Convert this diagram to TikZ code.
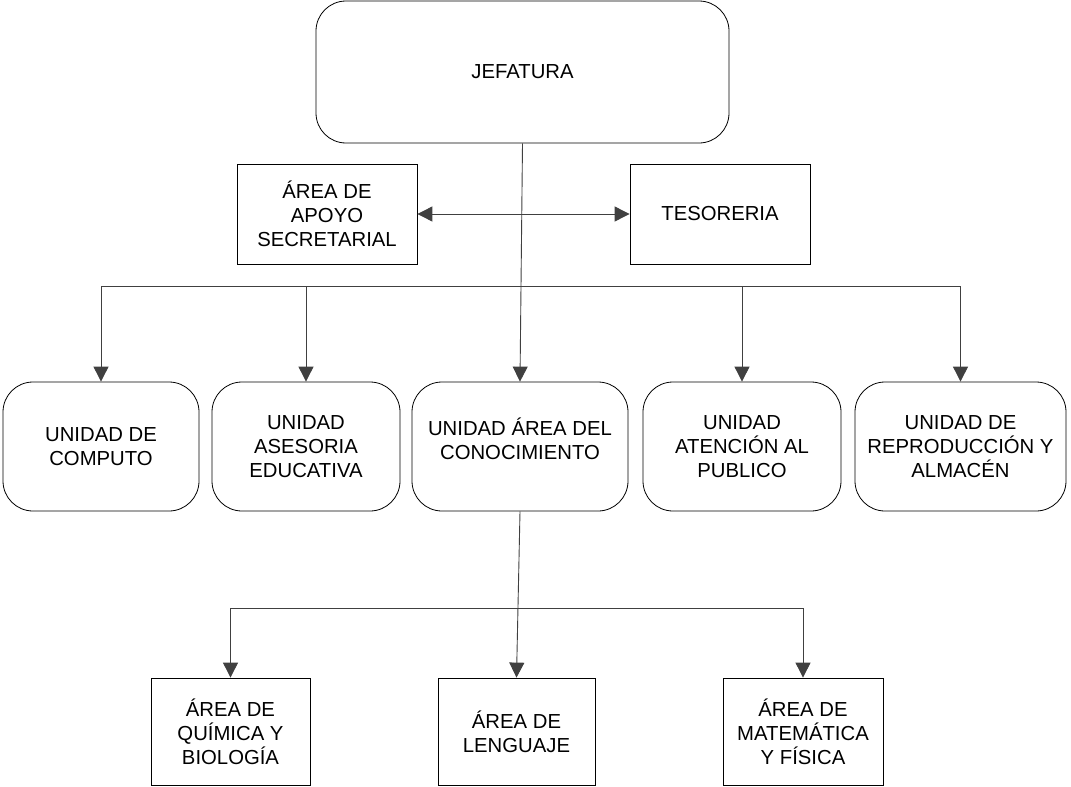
\documentclass[tikz,border=0pt]{standalone}
\usepackage{fontspec}
\setmainfont{Liberation Sans}
\usetikzlibrary{arrows.meta}
\tikzset{
  txt/.style={align=center, inner sep=0pt,
    font=\fontsize{20.3}{24}\selectfont, text=black},
  base/.style={txt, draw=black, line width=0.8pt},
  rbox/.style={base, rounded corners=30pt},
  sbox/.style={base},
  conn/.style={draw=black!75, line width=0.9pt},
  arr/.style={conn, -{Triangle[length=15pt,width=15pt]}}
}
\begin{document}
\begin{tikzpicture}[x=1pt,y=-1pt]
\useasboundingbox (0,0) rectangle (1071,787);
% top
\node[rbox, minimum width=413pt, minimum height=142pt] (jef) at (522.5,72) {JEFATURA};
\node[sbox, minimum width=180pt, minimum height=100pt] (apoyo) at (327,214) {ÁREA DE\\APOYO\\SECRETARIAL};
\node[sbox, minimum width=180pt, minimum height=100pt] (teso) at (720,214) {TESORERIA};
% units
\node[rbox, minimum width=196pt, minimum height=129pt] (u1) at (101,446.5) {UNIDAD DE\\COMPUTO};
\node[rbox, minimum width=188pt, minimum height=129pt] (u2) at (306,446.5) {UNIDAD\\ASESORIA\\EDUCATIVA};
\node[rbox, minimum width=216pt, minimum height=129pt] (u3) at (520,446.5) {};
\node[txt] (u3t) at (520,439) {UNIDAD ÁREA DEL\\CONOCIMIENTO};
\node[rbox, minimum width=198pt, minimum height=129pt] (u4) at (742,446.5) {UNIDAD\\ATENCIÓN AL\\PUBLICO};
\node[rbox, minimum width=211pt, minimum height=129pt] (u5) at (960.5,446.5) {UNIDAD DE\\REPRODUCCIÓN Y\\ALMACÉN};
% bottom
\node[sbox, minimum width=159pt, minimum height=107pt] (bA) at (230.5,731.5) {ÁREA DE\\QUÍMICA Y\\BIOLOGÍA};
\node[sbox, minimum width=157pt, minimum height=107pt] (bB) at (516.5,731.5) {ÁREA DE\\LENGUAJE};
\node[sbox, minimum width=160pt, minimum height=107pt] (bC) at (803,731.5) {ÁREA DE\\MATEMÁTICA\\Y FÍSICA};
% connectors top
\coordinate (j) at (522,214);
\draw[arr] (jef.south) -- (u3.north);
\draw[arr] (j) -- (apoyo.east);
\draw[arr] (j) -- (teso.west);
% bus
\coordinate (bL) at (101,286);
\coordinate (bR) at (960.5,286);
\draw[conn] (bL) -- (bR);
\draw[arr] (bL) -- (u1.north);
\draw[arr] (u2.north |- bL) -- (u2.north);
\draw[arr] (u4.north |- bL) -- (u4.north);
\draw[arr] (bR) -- (u5.north);
% lower bus
\coordinate (sL) at (230.5,608);
\coordinate (sR) at (803,608);
\draw[conn] (sL) -- (sR);
\draw[arr] (u3.south) -- (bB.north);
\draw[arr] (sL) -- (bA.north);
\draw[arr] (sR) -- (bC.north);
\end{tikzpicture}
\end{document}
